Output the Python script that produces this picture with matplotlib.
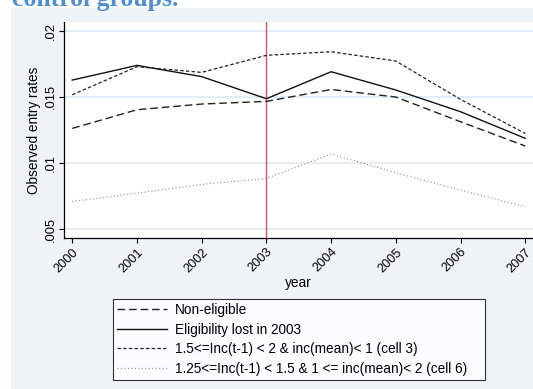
import matplotlib
matplotlib.use("Agg")
import matplotlib.pyplot as plt
from matplotlib.patches import Rectangle

years = [2000, 2001, 2002, 2003, 2004, 2005, 2006, 2007]
non_eligible = [0.01262, 0.01403, 0.01446, 0.01466, 0.01556, 0.01499, 0.01312, 0.01129]
lost_2003 = [0.01627, 0.01738, 0.01653, 0.01486, 0.01690, 0.01552, 0.01388, 0.01187]
cell3 = [0.01516, 0.01728, 0.01685, 0.01814, 0.01841, 0.01771, 0.01481, 0.01224]
cell6 = [0.00710, 0.00773, 0.00839, 0.00884, 0.01068, 0.00927, 0.00796, 0.00670]
y_ticks = [0.005, 0.01, 0.015, 0.02]
y_tick_labels = [".005", ".01", ".015", ".02"]
labels = [
    "Non-eligible",
    "Eligibility lost in 2003",
    "1.5<=Inc(t-1) < 2 & inc(mean)< 1 (cell 3)",
    "1.25<=Inc(t-1) < 1.5 & 1 <= inc(mean)< 2 (cell 6)",
]

plt.rcParams["font.family"] = ["Liberation Sans", "DejaVu Sans"]
plt.rcParams["lines.scale_dashes"] = False

W, H = 533, 389
fs = 9.8
fig = plt.figure(figsize=(W / 100, H / 100), dpi=100)
fig.patch.set_facecolor("white")

# stata graph region
bg = "#eef3f8"
fig.patches.append(Rectangle((11 / W, 0), 1, 1 - 8 / H, transform=fig.transFigure,
                             facecolor=bg, edgecolor="none", zorder=-10))

fig.text(12 / W, 1 - 6 / H, "control groups.", fontsize=18.5, fontweight="bold",
         family="Liberation Serif", color="#4f8fcf", va="baseline", ha="left")

ax = fig.add_axes([64 / W, 1 - 238 / H, 1 - 64 / W, (238 - 21.7) / H])
ax.set_facecolor("white")

ax.plot(years, non_eligible, color="#222222", lw=1.0, dashes=(5.5, 2.8), label=labels[0])
ax.plot(years, lost_2003, color="#111111", lw=1.0, label=labels[1])
ax.plot(years, cell3, color="#222222", lw=0.9, dashes=(2.5, 1.6), label=labels[2])
ax.plot(years, cell6, color="#8a8a8a", lw=0.9, dashes=(0.7, 1.8), label=labels[3])
ax.axvline(2003, color="#e0505e", lw=1.0, zorder=1)

ax.set_xlim(1999.872, 2007.12)
ax.set_ylim(0.00434, 0.02068)
ax.set_xticks(years)
ax.set_xticklabels([str(y) for y in years], rotation=45, ha="right",
                   rotation_mode="anchor", fontsize=9.2)
ax.set_yticks(y_ticks)
ax.set_yticklabels(y_tick_labels, rotation=90, va="center", fontsize=9.3)
ax.tick_params(length=3.8, width=0.8, color="black")
ax.tick_params(axis="x", pad=2)
ax.tick_params(axis="y", pad=1)
ax.grid(axis="y", color="#e4edf3", lw=1.4)
ax.set_axisbelow(True)
for s in ["top", "right"]:
    ax.spines[s].set_visible(False)
ax.spines["left"].set_linewidth(0.9)
ax.spines["bottom"].set_linewidth(0.9)

ax.set_xlabel("year", fontsize=fs, labelpad=1)
ax.set_ylabel("Observed entry rates", fontsize=fs, labelpad=3)

handles, lbls = ax.get_legend_handles_labels()
leg = fig.legend(handles, lbls, loc="upper left",
                 bbox_to_anchor=(112.7 / W, 1 - 299 / H, (485.3 - 112.7) / W, 0),
                 mode="expand", borderaxespad=0, fontsize=fs, frameon=True,
                 fancybox=False, handlelength=3.7, handletextpad=0.6,
                 labelspacing=0.42, borderpad=0.28)
leg.get_frame().set_edgecolor("black")
leg.get_frame().set_linewidth(0.8)

fig.savefig("out.png", dpi=100, facecolor=fig.get_facecolor())
